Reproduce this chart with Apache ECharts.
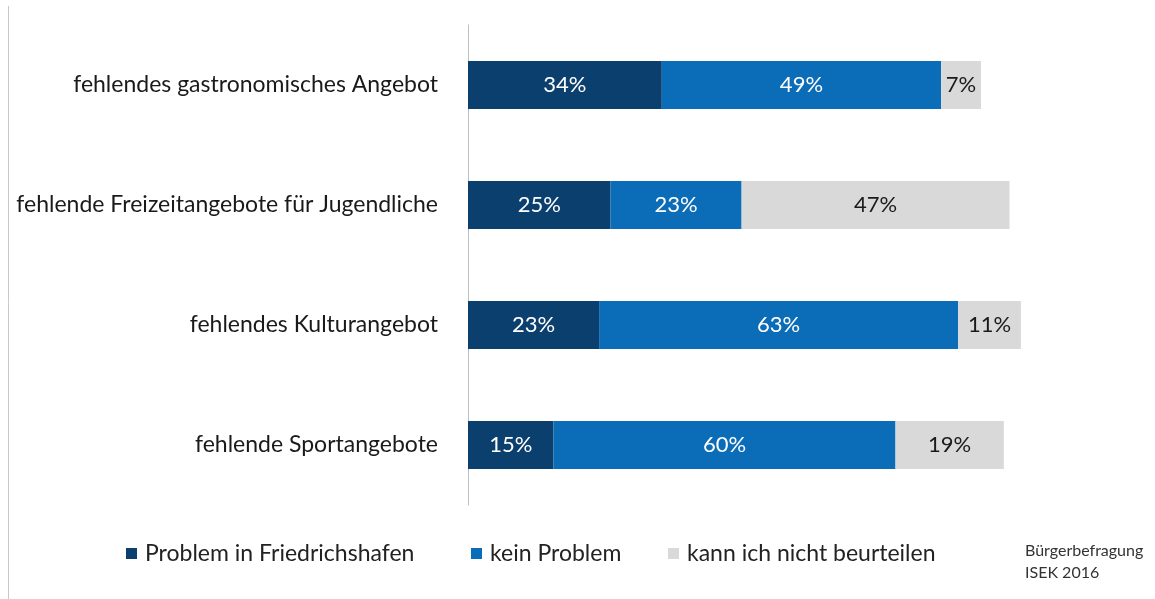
<!DOCTYPE html>
<html>
<head>
<meta charset="utf-8">
<script src="https://cdn.jsdelivr.net/npm/echarts@6/dist/echarts.min.js"></script>
<style>
    html, body { margin: 0; padding: 0; background: #fff; }
    #chart { width: 1155px; height: 599px; }
</style>
</head>
<body>
<div id="chart"></div>
<script>
const categories = [
    "fehlendes gastronomisches Angebot",
    "fehlende Freizeitangebote für Jugendliche",
    "fehlendes Kulturangebot",
    "fehlende Sportangebote"
];
const problem = [34, 25, 23, 15];
const keinProblem = [49, 23, 63, 60];
const nichtBeurteilen = [7, 47, 11, 19];

const fontFamily = "Lato, 'Open Sans', sans-serif";

const myChart = echarts.init(document.getElementById("chart"));

const labelStyle = (color) => ({
    show: true,
    position: "inside",
    formatter: "{c}%",
    color: color,
    fontSize: 22,
    fontFamily: fontFamily
});

// one legend per series so each item sits where it does in the original
const legendAt = (name, left) => ({
    left: left,
    top: 537,
    itemWidth: 11,
    itemHeight: 11,
    icon: "rect",
    textStyle: {
        fontSize: 23,
        color: "#222",
        fontFamily: fontFamily,
        padding: [0, 0, 0, 3]
    },
    data: [name]
});

const option = {
    animation: false,
    grid: {
        left: 468,
        right: 117,
        top: 25,
        bottom: 94
    },
    legend: [
        legendAt("Problem in Friedrichshafen", 121),
        legendAt("kein Problem", 466),
        legendAt("kann ich nicht beurteilen", 663)
    ],
    xAxis: {
        type: "value",
        min: 0,
        max: 100,
        show: false
    },
    yAxis: {
        type: "category",
        inverse: true,
        data: categories,
        axisLine: { show: true, lineStyle: { color: "#bfbfbf", width: 1 } },
        axisTick: { show: false },
        axisLabel: {
            margin: 30,
            fontSize: 23,
            color: "#1a1a1a",
            fontFamily: fontFamily
        }
    },
    series: [
        {
            name: "Problem in Friedrichshafen",
            type: "bar",
            stack: "total",
            barWidth: 48,
            data: problem,
            itemStyle: { color: "#0a3f6e" },
            label: labelStyle("#ffffff")
        },
        {
            name: "kein Problem",
            type: "bar",
            stack: "total",
            data: keinProblem,
            itemStyle: { color: "#0b6cb8" },
            label: labelStyle("#ffffff")
        },
        {
            name: "kann ich nicht beurteilen",
            type: "bar",
            stack: "total",
            data: nichtBeurteilen,
            itemStyle: { color: "#d9d9d9" },
            label: labelStyle("#1a1a1a")
        }
    ],
    graphic: [
        {
            type: "line",
            shape: { x1: 8.5, y1: 6, x2: 8.5, y2: 599 },
            style: { stroke: "#c8c8c8", lineWidth: 1 }
        },
        {
            type: "text",
            left: 1025,
            top: 540,
            style: {
                text: "Bürgerbefragung\nISEK 2016",
                fontSize: 16,
                lineHeight: 22,
                fill: "#333",
                fontFamily: fontFamily
            }
        }
    ]
};

myChart.setOption(option);
window.addEventListener("resize", () => myChart.resize());
</script>
</body>
</html>
